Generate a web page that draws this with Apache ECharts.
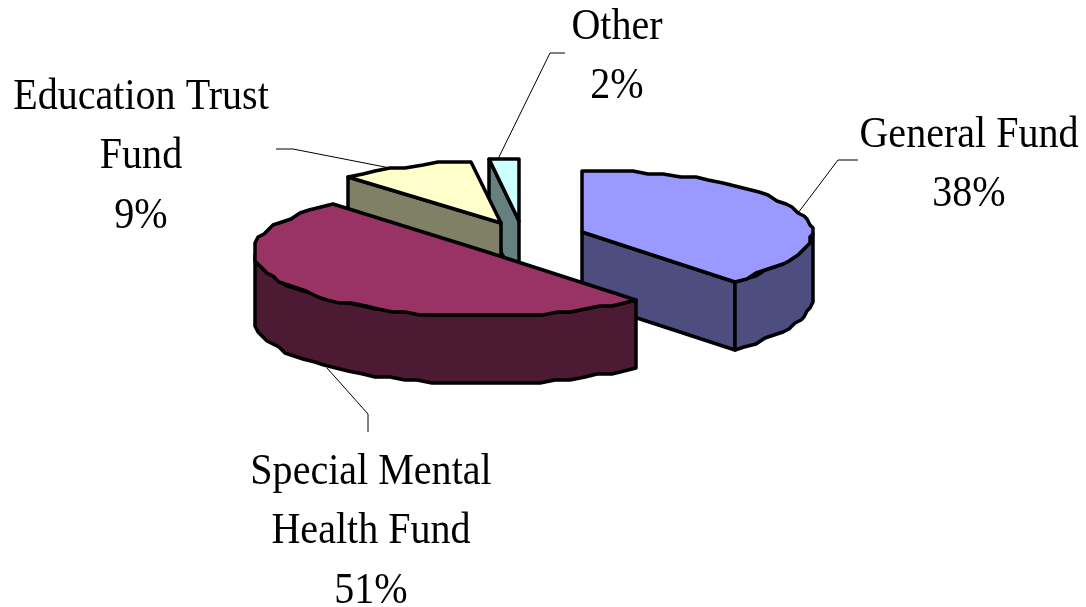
<!DOCTYPE html>
<html>
<head>
<meta charset="utf-8">
<style>
html, body { margin: 0; padding: 0; background: #fff; }
#chart { width: 1086px; height: 607px; }
</style>
<script src="https://cdn.jsdelivr.net/npm/echarts@6/dist/echarts.min.js"></script>
</head>
<body>
<div id="chart"></div>
<script>
// values as labelled, clockwise from 12 o'clock
var fundNames = ['General Fund', 'Special Mental\nHealth Fund', 'Education Trust\nFund', 'Other'];
var fundValues = [38, 51, 9, 2];
var topColors = ['#9999FF', '#993366', '#FFFFCC', '#CCFFFF'];
var sideColors = ['#4D4D80', '#4D1A33', '#808066', '#668080'];

// layout of the exploded slices
var centers = [[582, 232], [484, 251], [501, 223], [519, 221]];
var labelPos = [[969, 135], [371, 472], [141, 97], [617, 27]];
var leaderFrac = [0.5, 0.477, 0.36, 0.3];
var leaderBends = [[[838, 160], [858, 160]], [[368, 414], [368, 432]], [[293, 149], [276, 149]], [[550, 53], [565, 53]]];
var rx = 230, ryBack = 62, ryFront = 65, depth = 68;
var drawOrder = [3, 2, 0, 1];
var lineGap = 59.5;

var total = fundValues.reduce(function (a, b) { return a + b; }, 0);
var starts = [];
var acc = 0;
fundValues.forEach(function (v) {
    starts.push(acc / total * 2 * Math.PI);
    acc += v;
});

// the 3D view of the source bends the angles a little
var view = function (a) {
    return a + 0.045 * Math.sin(a);
};
// the source picture has stepped edges, so snap the rim to a coarse grid
var snap = function (v) {
    return Math.round(v / 3) * 3;
};
var rim = function (c, a, dy) {
    var t = view(a);
    var ry = Math.cos(t) < 0 ? ryFront : ryBack;
    return [snap(c[0] + rx * Math.sin(t)), snap(c[1] - ry * Math.cos(t)) + (dy || 0)];
};
var arcPoints = function (c, a0, a1, dy) {
    var n = Math.max(1, Math.round((a1 - a0) / (4 * Math.PI / 180)));
    var pts = [];
    for (var i = 0; i <= n; i++) {
        pts.push(rim(c, a0 + (a1 - a0) * i / n, dy));
    }
    return pts;
};
var poly = function (points, fill) {
    return {
        type: 'polygon',
        shape: { points: points },
        style: { fill: fill, stroke: '#000', lineWidth: 3.5, lineJoin: 'round' }
    };
};
var cutFace = function (c, a, fill) {
    var p = rim(c, a);
    return poly([c, p, [p[0], p[1] + depth], [c[0], c[1] + depth]], fill);
};

var renderSlice = function (params, api) {
    var i = drawOrder[params.dataIndex];
    var c = centers[i];
    var a0 = starts[i];
    var a1 = a0 + fundValues[i] / total * 2 * Math.PI;
    var side = sideColors[i];
    var children = [];

    // cut faces that look at the viewer
    if (Math.sin(a0) < -1e-6) {
        children.push(cutFace(c, a0, side));
    }
    if (Math.sin(a1) > 1e-6) {
        children.push(cutFace(c, a1, side));
    }
    // outer wall, only the front half of the rim shows
    var w0 = Math.max(a0, Math.PI / 2);
    var w1 = Math.min(a1, Math.PI * 3 / 2);
    if (w1 > w0) {
        var upper = arcPoints(c, w0, w1);
        var lower = arcPoints(c, w0, w1, depth).reverse();
        children.push(poly(upper.concat(lower), side));
    }
    children.push(poly([c].concat(arcPoints(c, a0, a1)), topColors[i]));
    return { type: 'group', children: children };
};

// leaders and labels sit on top of the slices
var renderLabel = function (params, api) {
    var i = params.dataIndex;
    var mid = starts[i] + fundValues[i] / total * 2 * Math.PI * leaderFrac[i];
    var front = Math.cos(mid) < 0;
    var from = rim(centers[i], mid, front ? depth : 0);
    var lines = fundNames[i].split('\n').concat(fundValues[i] + '%');
    var children = [{
        type: 'polyline',
        shape: { points: [from].concat(leaderBends[i]) },
        style: { fill: null, stroke: '#000', lineWidth: 1 }
    }];
    lines.forEach(function (t, k) {
        children.push({
            type: 'text',
            x: labelPos[i][0],
            y: labelPos[i][1] + k * lineGap,
            scaleX: 0.89,
            style: {
                text: t,
                fill: '#000',
                font: '45px "Liberation Serif", serif',
                align: 'center',
                verticalAlign: 'middle'
            }
        });
    });
    return { type: 'group', children: children };
};

var myChart = echarts.init(document.getElementById('chart'));
myChart.setOption({
    animation: false,
    backgroundColor: '#fff',
    series: [{
        type: 'custom',
        coordinateSystem: 'none',
        silent: true,
        renderItem: renderSlice,
        data: drawOrder.map(function (i) { return { name: fundNames[i], value: fundValues[i] }; })
    }, {
        type: 'custom',
        coordinateSystem: 'none',
        silent: true,
        z: 3,
        renderItem: renderLabel,
        data: fundNames.map(function (n, i) { return { name: n, value: fundValues[i] }; })
    }]
});
</script>
</body>
</html>
